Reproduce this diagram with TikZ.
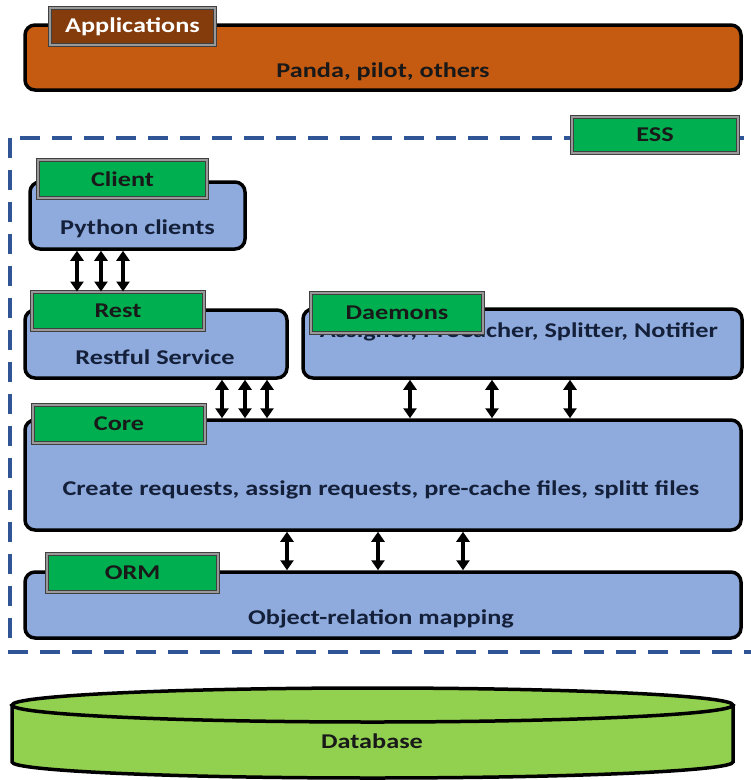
\documentclass[tikz,border=0pt]{standalone}
\usepackage{fontspec}
\setmainfont{Carlito}[FakeStretch=1.25]
\usetikzlibrary{arrows.meta}
\definecolor{apporange}{HTML}{C55A11}
\definecolor{appbrown}{HTML}{843C0C}
\definecolor{boxblue}{HTML}{8FAADC}
\definecolor{taggreen}{HTML}{00B050}
\definecolor{dbgreen}{HTML}{92D050}
\definecolor{essblue}{HTML}{2F5597}
\definecolor{txtblue}{HTML}{14203A}
\tikzset{
  box/.style={draw=black,line width=3.5pt,rounded corners=10pt,fill=boxblue,inner sep=0pt},
  tag/.style={draw=black!75,double=black!40,double distance=1.5pt,line width=1pt,fill=taggreen,
    inner sep=0pt,font=\fontsize{21}{24}\selectfont\bfseries,text=black!90},
  txt/.style={font=\fontsize{21}{24}\selectfont\bfseries,text=txtblue,inner sep=0pt},
  conn/.style={line width=3.2pt,{Triangle[length=10pt,width=13pt]}-{Triangle[length=10pt,width=13pt]}},
}
\begin{document}
\begin{tikzpicture}[x=1pt,y=-1pt]
\useasboundingbox (0,0) rectangle (751,780);

% applications
\node[box,fill=apporange,minimum width=716,minimum height=65] (app) at (383,57.5) {};
\node[txt,text=black!90] (apptxt) at (383,72) {Panda, pilot, others};
\node[tag,fill=appbrown,text=white,minimum width=165,minimum height=37] (appTag) at (132.5,26.5) {Applications};

% ess frame
\draw[essblue,line width=3.5pt,dash pattern=on 20pt off 12pt] (10,138) rectangle (775,652);
\node[tag,minimum width=166,minimum height=36] (essTag) at (655,135) {ESS};

% boxes
\node[box,minimum width=215,minimum height=67] (client) at (137.5,215.5) {};
\node[txt] (clienttxt) at (137.5,229) {Python clients};
\node[tag,minimum width=169,minimum height=38] (clientTag) at (122.5,179) {Client};

\node[box,minimum width=262,minimum height=68] (rest) at (156,344) {};
\node[txt] (resttxt) at (155,357) {Restful Service};
\node[tag,minimum width=172,minimum height=38] (restTag) at (118,311) {Rest};

\node[box,minimum width=439,minimum height=69] (daemons) at (522.5,343.5) {};
\node[txt] (daemonstxt) at (519,332) {Assigner, PreCacher, Splitter, Notifier};
\node[tag,minimum width=172,minimum height=40] (daemonsTag) at (397,313) {Daemons};

\node[box,minimum width=716,minimum height=110] (core) at (383,475) {};
\node[txt] (coretxt) at (381,490) {Create requests, assign requests, pre-cache files, splitt files};
\node[tag,minimum width=172,minimum height=38] (coreTag) at (119,424) {Core};

\node[box,minimum width=716,minimum height=66] (orm) at (383,605) {};
\node[txt] (ormtxt) at (381,619) {Object-relation mapping};
\node[tag,minimum width=171,minimum height=38] (ormTag) at (132.5,573) {ORM};

% database
\fill[dbgreen] (12,705) -- (12,762) arc[start angle=180,end angle=360,x radius=360.5pt,y radius=16pt] -- (733,705) -- cycle;
\draw[line width=3.5pt] (12,705) -- (12,762) arc[start angle=180,end angle=360,x radius=360.5pt,y radius=16pt] -- (733,705);
\draw[line width=3.5pt,fill=dbgreen] (372.5,705) ellipse[x radius=360.5pt,y radius=17pt];
\node[txt,text=black!90] (db) at (372,741) {Database};

% connectors
\foreach \x in {77,101,123} \draw[conn] (client.south -| \x,0) -- (restTag.north -| \x,0);
\foreach \x in {222,245,267} \draw[conn] (rest.south -| \x,0) -- (core.north -| \x,0);
\foreach \x in {410,492,570} \draw[conn] (daemons.south -| \x,0) -- (core.north -| \x,0);
\foreach \x in {287,378,463} \draw[conn] (core.south -| \x,0) -- (orm.north -| \x,0);
\end{tikzpicture}
\end{document}
